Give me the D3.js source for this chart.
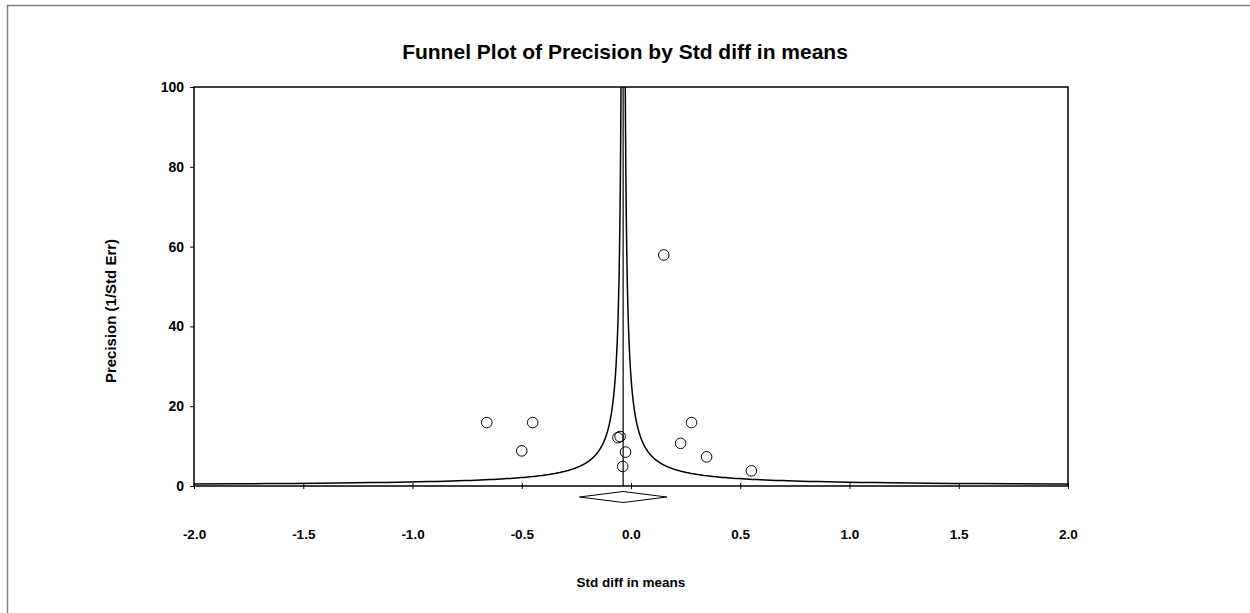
<!DOCTYPE html>
<html>
<head>
<meta charset="utf-8">
<script src="https://cdn.jsdelivr.net/npm/d3@7"></script>
<style>
  body { margin: 0; background: #fff; }
  text { font-family: "Liberation Sans", Arial, sans-serif; font-weight: bold; fill: #000; }
</style>
</head>
<body>
<div id="chart"></div>
<script>
(function() {
  'use strict';

  // study values
  var studyEffects = [-0.66, -0.45, -0.50, -0.06, -0.05, -0.025, -0.038, 0.15, 0.277, 0.227, 0.346, 0.551];
  var studyPrecision = [15.9, 15.9, 8.8, 12.1, 12.4, 8.5, 4.9, 57.9, 15.9, 10.7, 7.3, 3.8];

  // summary effect and its interval (diamond)
  var meanEffect = -0.036;
  var ciBounds = [-0.236, 0.164];

  var xTicks = [-2.0, -1.5, -1.0, -0.5, 0.0, 0.5, 1.0, 1.5, 2.0];
  var yTicks = [0, 20, 40, 60, 80, 100];

  var svgW = 1250,
    svgH = 613;

  var plotL = 194,
    plotR = 1068,
    plotT = 87,
    plotB = 486;

  var funnelWidth = 0.98; // half width of the funnel times precision

  var svg = d3.select('#chart')
    .append('svg')
    .attr('width', svgW)
    .attr('height', svgH);

  // outer frame, only top and left show in the window
  svg.append('rect')
    .attr('x', 7.5)
    .attr('y', 5.5)
    .attr('width', svgW + 20)
    .attr('height', svgH + 20)
    .attr('fill', 'none')
    .attr('stroke', '#808080')
    .attr('stroke-width', 1.5);

  var x = d3.scaleLinear().domain([-2, 2]).range([plotL, plotR]);
  var y = d3.scaleLinear().domain([0, 100]).range([plotB, plotT]);

  svg.append('text')
    .attr('x', 625)
    .attr('y', 59)
    .attr('text-anchor', 'middle')
    .style('font-size', '21px')
    .text('Funnel Plot of Precision by Std diff in means');

  // plot box
  svg.append('rect')
    .attr('x', plotL)
    .attr('y', plotT)
    .attr('width', plotR - plotL)
    .attr('height', plotB - plotT)
    .attr('fill', 'none')
    .attr('stroke', '#000')
    .attr('stroke-width', 1.5);

  svg.append('clipPath')
    .attr('id', 'plot-clip')
    .append('rect')
    .attr('x', plotL)
    .attr('y', plotT)
    .attr('width', plotR - plotL)
    .attr('height', plotB - plotT);

  // funnel lines
  var precisions = d3.range(0.45, 101, 0.05);
  var funnelLine = d3.line()
    .x(function(d) { return x(d.x); })
    .y(function(d) { return y(d.p); });

  [-1, 1].forEach(function(side) {
    var pts = precisions.map(function(p) {
      return { x: meanEffect + side * funnelWidth / p, p: p };
    });
    svg.append('path')
      .datum(pts)
      .attr('clip-path', 'url(#plot-clip)')
      .attr('d', funnelLine)
      .attr('fill', 'none')
      .attr('stroke', '#000')
      .attr('stroke-width', 1.5);
  });

  // mean line
  svg.append('line')
    .attr('x1', x(meanEffect))
    .attr('x2', x(meanEffect))
    .attr('y1', y(0))
    .attr('y2', y(100))
    .attr('stroke', '#000')
    .attr('stroke-width', 1.2);

  // y axis
  var yAxis = d3.axisLeft(y)
    .tickValues(yTicks)
    .tickSize(4)
    .tickPadding(6)
    .tickFormat(d3.format('d'));

  var yG = svg.append('g')
    .attr('transform', 'translate(' + plotL + ',0)')
    .call(yAxis);
  yG.select('.domain').remove();
  yG.selectAll('text').style('font-size', '14px').attr('fill', '#000');
  yG.selectAll('line').attr('stroke', '#000');

  // x axis, ticks cross the line
  var xAxis = d3.axisBottom(x)
    .tickValues(xTicks)
    .tickSize(3)
    .tickPadding(40)
    .tickFormat(function(d) { return d.toFixed(1); });

  var xG = svg.append('g')
    .attr('transform', 'translate(0,' + plotB + ')')
    .call(xAxis);
  xG.select('.domain').remove();
  xG.selectAll('.tick line').attr('y1', -3).attr('stroke', '#000');
  xG.selectAll('text').style('font-size', '13.5px').attr('fill', '#000');

  // studies
  var dots = svg.selectAll('circle.study')
    .data(studyEffects)
    .enter()
    .append('circle')
    .attr('class', 'study');

  dots.attr('cx', function(d) { return x(d); })
    .attr('cy', function(d, i) { return y(studyPrecision[i]); })
    .attr('r', 5.3)
    .attr('fill', 'none')
    .attr('stroke', '#000')
    .attr('stroke-width', 1);

  // summary diamond
  var dy = 497;
  var diamond = [
    [x(ciBounds[0]), dy],
    [x(meanEffect), dy - 5.5],
    [x(ciBounds[1]), dy],
    [x(meanEffect), dy + 5.5]
  ];
  svg.append('path')
    .attr('d', d3.line()(diamond) + 'Z')
    .attr('fill', 'none')
    .attr('stroke', '#000')
    .attr('stroke-width', 1);

  svg.append('text')
    .attr('x', (plotL + plotR) / 2)
    .attr('y', 587)
    .attr('text-anchor', 'middle')
    .style('font-size', '13.5px')
    .text('Std diff in means');

  svg.append('text')
    .attr('transform', 'translate(116,311) rotate(-90)')
    .attr('text-anchor', 'middle')
    .style('font-size', '15px')
    .text('Precision (1/Std Err)');

}());
</script>
</body>
</html>
